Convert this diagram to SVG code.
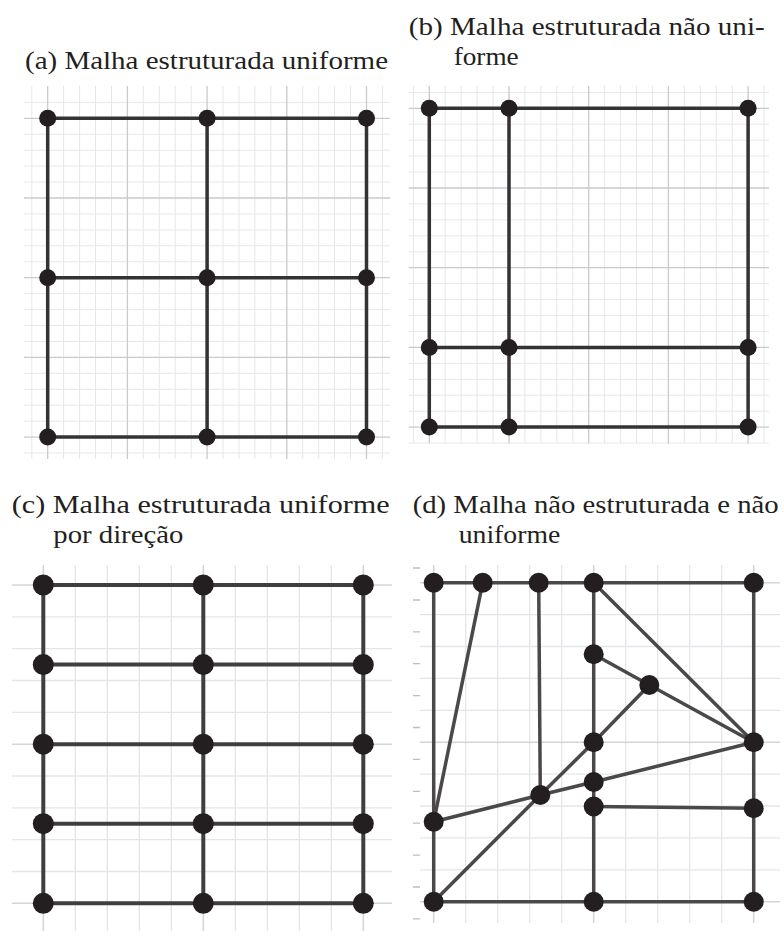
<svg xmlns="http://www.w3.org/2000/svg" width="784" height="931" viewBox="0 0 784 931">
<style>
text{font-family:"Liberation Serif","Times New Roman",serif;font-size:25px;fill:#231f20}
.mn{stroke:#e6e7e8;stroke-width:1}
.mj{stroke:#c9cacc;stroke-width:1.3}
.mn2{stroke:#e3e6e9;stroke-width:1.3}
.mj2{stroke:#d2d5d8;stroke-width:1.5}
.tk{stroke:#bdbfc1;stroke-width:1.3}
.e{stroke:#343234;stroke-width:3.5;fill:none;stroke-linecap:round}
.e2{stroke:#403e40;stroke-width:4;fill:none}
.e3{stroke:#4a4849;stroke-width:3.5;fill:none;stroke-linejoin:round}
.n{fill:#231f20}
</style>
<rect width="784" height="931" fill="#fff"/>

<!-- captions -->
<text x="25" y="69" textLength="363" lengthAdjust="spacingAndGlyphs">(a) Malha estruturada uniforme</text>
<text x="408.7" y="35" textLength="356" lengthAdjust="spacingAndGlyphs">(b) Malha estruturada não uni-</text>
<text x="453.7" y="65" textLength="65" lengthAdjust="spacingAndGlyphs">forme</text>
<text x="11.7" y="513" textLength="378" lengthAdjust="spacingAndGlyphs">(c) Malha estruturada uniforme</text>
<text x="53.3" y="543" textLength="130" lengthAdjust="spacingAndGlyphs">por direção</text>
<text x="412.7" y="513" textLength="366" lengthAdjust="spacingAndGlyphs">(d) Malha não estruturada e não</text>
<text x="458.7" y="543" textLength="101.6" lengthAdjust="spacingAndGlyphs">uniforme</text>

<!-- grid (a) -->
<g id="grid-a">
<g class="mn">
<path d="M31.8 86V459M63.6 86V459M79.6 86V459M95.5 86V459M111.5 86V459M143.3 86V459M159.3 86V459M175.2 86V459M191.2 86V459M223 86V459M239 86V459M254.9 86V459M270.9 86V459M302.7 86V459M318.7 86V459M334.6 86V459M350.6 86V459M382.4 86V459"/>
<path d="M24 102.4H390M24 134.2H390M24 150.2H390M24 166.1H390M24 182.1H390M24 213.9H390M24 229.9H390M24 245.8H390M24 261.8H390M24 293.6H390M24 309.6H390M24 325.5H390M24 341.5H390M24 373.3H390M24 389.3H390M24 405.2H390M24 421.2H390M24 453H390"/>
</g>
<g class="mj">
<path d="M47.7 86V459M127.4 86V459M207.1 86V459M286.8 86V459M366.5 86V459"/>
<path d="M24 118.3H390M24 198H390M24 277.7H390M24 357.4H390M24 437.1H390"/>
</g>
</g>

<!-- grid (b) -->
<g id="grid-b">
<g class="mn">
<path d="M413.4 86V443.5M445.2 86V443.5M461.2 86V443.5M477.1 86V443.5M493.1 86V443.5M524.9 86V443.5M540.9 86V443.5M556.8 86V443.5M572.8 86V443.5M604.6 86V443.5M620.6 86V443.5M636.5 86V443.5M652.5 86V443.5M684.3 86V443.5M700.3 86V443.5M716.2 86V443.5M732.2 86V443.5M764 86V443.5"/>
<path d="M408.7 92.4H769M408.7 124.2H769M408.7 140.2H769M408.7 156.1H769M408.7 172.1H769M408.7 203.9H769M408.7 219.9H769M408.7 235.8H769M408.7 251.8H769M408.7 283.6H769M408.7 299.6H769M408.7 315.5H769M408.7 331.5H769M408.7 363.3H769M408.7 379.3H769M408.7 395.2H769M408.7 411.2H769M408.7 443H769"/>
</g>
<g class="mj">
<path d="M429.3 86V443.5M509 86V443.5M588.7 86V443.5M668.4 86V443.5M748.1 86V443.5"/>
<path d="M408.7 108.3H769M408.7 188H769M408.7 267.7H769M408.7 347.4H769M408.7 427.1H769"/>
</g>
</g>

<!-- grid (c) -->
<g id="grid-c">
<g class="mn2">
<path d="M75.3 565V931M107.3 565V931M139.3 565V931M171.3 565V931M235.3 565V931M267.3 565V931M299.3 565V931M331.3 565V931"/>
<path d="M12 616.8H392M12 648.7H392M12 680.5H392M12 712.3H392M12 776H392M12 807.8H392M12 839.6H392M12 871.5H392"/>
</g>
<g class="mj2">
<path d="M43.3 565V931M203.3 565V931M363.3 565V931"/>
<path d="M12 585H392M12 744.2H392M12 903.3H392"/>
</g>
</g>

<!-- grid (d) -->
<g id="grid-d">
<g class="mn2">
<path d="M465.7 565V923M497.7 565V923M529.7 565V923M561.7 565V923M625.7 565V923M657.7 565V923M689.7 565V923M721.7 565V923"/>
<path d="M420 614.6H780M420 646.5H780M420 678.4H780M420 710.3H780M420 774.1H780M420 806H780M420 837.9H780M420 869.8H780"/>
</g>
<g class="mj2">
<path d="M433.7 565V923M593.7 565V923M753.7 565V923"/>
<path d="M420 582.7H780M420 742.2H780M420 901.7H780"/>
</g>
<path class="tk" d="M413 568H420M413 600H420M413 631.8H420M413 663.7H420M413 695.6H420M413 727.5H420M413 759.4H420M413 791.3H420M413 823.2H420M413 855.1H420M413 887H420M413 918.9H420"/>
</g>

<!-- connectors -->
<g id="connectors">
<g class="e">
<path d="M47.7 118.3H366.5M47.7 277.7H366.5M47.7 437.1H366.5M47.7 118.3V437.1M207.1 118.3V437.1M366.5 118.3V437.1"/>
<path d="M429.3 108.3H748.1M429.3 347.4H748.1M429.3 427.1H748.1M429.3 108.3V427.1M509 108.3V427.1M748.1 108.3V427.1"/>
</g>
<g class="e2">
<path d="M43.3 585H363.3M43.3 664.6H363.3M43.3 744.2H363.3M43.3 823.7H363.3M43.3 903.3H363.3M43.3 585V903.3M203.3 585V903.3M363.3 585V903.3"/>
</g>
<g class="e3">
<path d="M433.7 582.7H753.7M433.7 901.7H753.7M433.7 582.7V901.7M753.7 582.7V901.7M593.7 582.7V901.7"/>
<path d="M482.7 582.7L433.7 821.7"/>
<path d="M538.7 582.7L540.3 795"/>
<path d="M593.7 582.7L753.7 742.2"/>
<path d="M593.7 654.3L649.3 685L753.7 742.2"/>
<path d="M433.7 901.7L540.3 795L593.7 742.2L649.3 685"/>
<path d="M433.7 821.7L540.3 795L593.7 782L753.7 742.2"/>
<path d="M593.7 806.5L753.7 808.3"/>
</g>
</g>

<!-- nodes (a) -->
<g id="a-n1"><circle class="n" cx="47.7" cy="118.3" r="8.5"/></g>
<g id="a-n2"><circle class="n" cx="207.1" cy="118.3" r="8.5"/></g>
<g id="a-n3"><circle class="n" cx="366.5" cy="118.3" r="8.5"/></g>
<g id="a-n4"><circle class="n" cx="47.7" cy="277.7" r="8.5"/></g>
<g id="a-n5"><circle class="n" cx="207.1" cy="277.7" r="8.5"/></g>
<g id="a-n6"><circle class="n" cx="366.5" cy="277.7" r="8.5"/></g>
<g id="a-n7"><circle class="n" cx="47.7" cy="437.1" r="8.5"/></g>
<g id="a-n8"><circle class="n" cx="207.1" cy="437.1" r="8.5"/></g>
<g id="a-n9"><circle class="n" cx="366.5" cy="437.1" r="8.5"/></g>

<!-- nodes (b) -->
<g id="b-n1"><circle class="n" cx="429.3" cy="108.3" r="8.5"/></g>
<g id="b-n2"><circle class="n" cx="509" cy="108.3" r="8.5"/></g>
<g id="b-n3"><circle class="n" cx="748.1" cy="108.3" r="8.5"/></g>
<g id="b-n4"><circle class="n" cx="429.3" cy="347.4" r="8.5"/></g>
<g id="b-n5"><circle class="n" cx="509" cy="347.4" r="8.5"/></g>
<g id="b-n6"><circle class="n" cx="748.1" cy="347.4" r="8.5"/></g>
<g id="b-n7"><circle class="n" cx="429.3" cy="427.1" r="8.5"/></g>
<g id="b-n8"><circle class="n" cx="509" cy="427.1" r="8.5"/></g>
<g id="b-n9"><circle class="n" cx="748.1" cy="427.1" r="8.5"/></g>

<!-- nodes (c) -->
<g id="c-n1"><circle class="n" cx="43.3" cy="585" r="10.5"/></g>
<g id="c-n2"><circle class="n" cx="203.3" cy="585" r="10.5"/></g>
<g id="c-n3"><circle class="n" cx="363.3" cy="585" r="10.5"/></g>
<g id="c-n4"><circle class="n" cx="43.3" cy="664.6" r="10.5"/></g>
<g id="c-n5"><circle class="n" cx="203.3" cy="664.6" r="10.5"/></g>
<g id="c-n6"><circle class="n" cx="363.3" cy="664.6" r="10.5"/></g>
<g id="c-n7"><circle class="n" cx="43.3" cy="744.2" r="10.5"/></g>
<g id="c-n8"><circle class="n" cx="203.3" cy="744.2" r="10.5"/></g>
<g id="c-n9"><circle class="n" cx="363.3" cy="744.2" r="10.5"/></g>
<g id="c-n10"><circle class="n" cx="43.3" cy="823.7" r="10.5"/></g>
<g id="c-n11"><circle class="n" cx="203.3" cy="823.7" r="10.5"/></g>
<g id="c-n12"><circle class="n" cx="363.3" cy="823.7" r="10.5"/></g>
<g id="c-n13"><circle class="n" cx="43.3" cy="903.3" r="10.5"/></g>
<g id="c-n14"><circle class="n" cx="203.3" cy="903.3" r="10.5"/></g>
<g id="c-n15"><circle class="n" cx="363.3" cy="903.3" r="10.5"/></g>

<!-- nodes (d) -->
<g id="d-n1"><circle class="n" cx="433.7" cy="582.7" r="10"/></g>
<g id="d-n2"><circle class="n" cx="482.7" cy="582.7" r="10"/></g>
<g id="d-n3"><circle class="n" cx="538.7" cy="582.7" r="10"/></g>
<g id="d-n4"><circle class="n" cx="593.7" cy="582.7" r="10"/></g>
<g id="d-n5"><circle class="n" cx="753.7" cy="582.7" r="10"/></g>
<g id="d-n6"><circle class="n" cx="593.7" cy="654.3" r="10"/></g>
<g id="d-n7"><circle class="n" cx="649.3" cy="685" r="10"/></g>
<g id="d-n8"><circle class="n" cx="593.7" cy="742.2" r="10"/></g>
<g id="d-n9"><circle class="n" cx="753.7" cy="742.2" r="10"/></g>
<g id="d-n10"><circle class="n" cx="593.7" cy="782" r="10"/></g>
<g id="d-n11"><circle class="n" cx="540.3" cy="795" r="10"/></g>
<g id="d-n12"><circle class="n" cx="593.7" cy="806.5" r="10"/></g>
<g id="d-n13"><circle class="n" cx="753.7" cy="808.3" r="10"/></g>
<g id="d-n14"><circle class="n" cx="433.7" cy="821.7" r="10"/></g>
<g id="d-n15"><circle class="n" cx="433.7" cy="901.7" r="10"/></g>
<g id="d-n16"><circle class="n" cx="593.7" cy="901.7" r="10"/></g>
<g id="d-n17"><circle class="n" cx="753.7" cy="901.7" r="10"/></g>
</svg>
